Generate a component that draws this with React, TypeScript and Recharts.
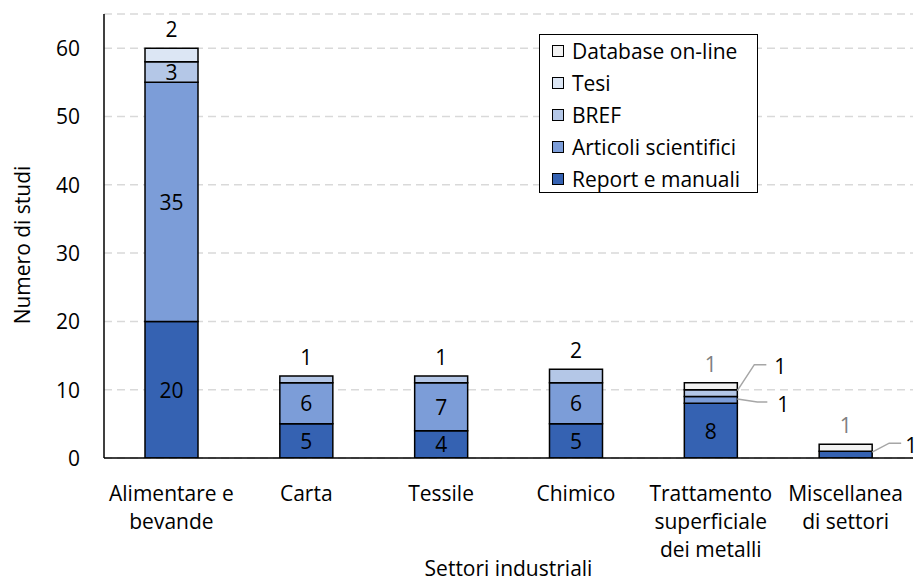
import React from 'react';
import { BarChart, Bar, XAxis, YAxis, CartesianGrid, LabelList, Label } from 'recharts';

const categories = [
  'Alimentare e\nbevande',
  'Carta',
  'Tessile',
  'Chimico',
  'Trattamento\nsuperficiale\ndei metalli',
  'Miscellanea\ndi settori',
];
const reportManuali = [20, 5, 4, 5, 8, 1];
const articoliScientifici = [35, 6, 7, 6, 1, 0];
const bref = [3, 1, 1, 2, 1, 0];
const tesi = [2, 0, 0, 0, 0, 0];
const databaseOnline = [0, 0, 0, 0, 1, 1];
const yTicks = [0, 10, 20, 30, 40, 50, 60];

const seriesKeys = ['report', 'articoli', 'bref', 'tesi', 'database'];
const seriesNames = ['Report e manuali', 'Articoli scientifici', 'BREF', 'Tesi', 'Database on-line'];
const seriesColors = ['#3562B2', '#7C9DD8', '#B4C7E7', '#DCE6F4', '#F2F2F2'];

const data = categories.map((c, i) => ({
  category: c,
  report: reportManuali[i],
  articoli: articoliScientifici[i],
  bref: bref[i],
  tesi: tesi[i],
  database: databaseOnline[i],
}));

const FONT = '"Open Sans", sans-serif';
const FS = 21;
const SMALL = 14;
const Y_AXIS_W = 104;

const makeLabel = (si: number) => (props: any) => {
  const { x, y, width, height } = props;
  const ci = categories.indexOf(props.value);
  if (ci < 0) return null;
  const row: any = data[ci];
  const key = seriesKeys[si];
  const value = row[key] as number;
  if (!value) return null;
  const vals = seriesKeys.map((k) => row[k] as number);
  let top = -1;
  vals.forEach((v, k) => { if (v > 0) top = k; });
  const pxPerUnit = Math.abs(height) / value;
  const h = Math.abs(height);
  const yTop = height < 0 ? y + height : y;
  const cx = x + width / 2;
  if (si === top) {
    return (
      <text x={cx} y={yTop - 19} textAnchor="middle" dominantBaseline="central"
        fontFamily={FONT} fontSize={FS} fill={key === 'database' ? '#7F7F7F' : '#000'}>
        {value}
      </text>
    );
  }
  if (h >= SMALL) {
    return (
      <text x={cx} y={yTop + h / 2} textAnchor="middle" dominantBaseline="central"
        fontFamily={FONT} fontSize={FS} fill="#000">
        {value}
      </text>
    );
  }
  let above = -1;
  for (let k = si + 1; k < vals.length; k++) { if (vals[k] > 0) { above = k; break; } }
  let below = -1;
  for (let k = si - 1; k >= 0; k--) { if (vals[k] > 0) { below = k; break; } }
  const aboveSmall = above >= 0 && above !== top && vals[above] * pxPerUnit < SMALL;
  const belowSmall = below >= 0 && vals[below] * pxPerUnit < SMALL;
  const right = x + width;
  if (aboveSmall) {
    const y0 = yTop + 2.5;
    const y1 = yTop + 5.5;
    return (
      <g>
        <path d={`M${right},${y0} L${right + 20},${y1} L${right + 30},${y1}`} stroke="#A6A6A6" strokeWidth={1.5} fill="none" />
        <text x={right + 46} y={yTop + 7.5} textAnchor="middle" dominantBaseline="central" fontFamily={FONT} fontSize={FS} fill="#000">{value}</text>
      </g>
    );
  }
  const rise = belowSmall ? 26 : 9;
  const y0 = yTop + 1;
  const y1 = y0 - rise;
  return (
    <g>
      <path d={`M${right},${y0} L${right + 17},${y1} L${right + 29},${y1}`} stroke="#A6A6A6" strokeWidth={1.5} fill="none" />
      <text x={right + (belowSmall ? 43 : 39)} y={y1 + 1.5} textAnchor="middle" dominantBaseline="central" fontFamily={FONT} fontSize={FS} fill="#000">{value}</text>
    </g>
  );
};

const renderTick = (props: any) => {
  const { x, payload } = props;
  const lines = String(payload.value).split('\n');
  return (
    <g>
      {lines.map((l, i) => (
        <text key={i} x={x} y={458 + 35 + i * 28} textAnchor="middle" dominantBaseline="central"
          fontFamily={FONT} fontSize={FS} fill="#000">{l}</text>
      ))}
    </g>
  );
};

const renderYTick = (props: any) => {
  const { y, payload } = props;
  return (
    <text x={Y_AXIS_W - 24} y={y} textAnchor="end" dominantBaseline="central"
      fontFamily={FONT} fontSize={FS} fill="#000">{payload.value}</text>
  );
};

export default function App() {
  const legendOrder = [4, 3, 2, 1, 0];
  return (
    <div style={{ position: 'absolute', left: 0, top: 0, width: 916, height: 577, background: '#fff', fontFamily: FONT }}>
      <BarChart width={916} height={577} data={data} margin={{ top: 14, right: 3, bottom: 0, left: 0 }} barCategoryGap={0}>
        <CartesianGrid vertical={false} stroke="#D9D9D9" strokeWidth={1.5} strokeDasharray="8 5" />
        <XAxis dataKey="category" height={119} tick={renderTick} tickLine={false} axisLine={{ stroke: '#000', strokeWidth: 1.5 }} interval={0}>
          <Label content={(p: any) => {
            const vb = p.viewBox;
            return <text x={vb.x + vb.width / 2} y={568} textAnchor="middle" dominantBaseline="central" fontFamily={FONT} fontSize={FS} fill="#000">Settori industriali</text>;
          }} />
        </XAxis>
        <YAxis width={Y_AXIS_W} domain={[0, 65]} ticks={yTicks} tickLine={false}
          axisLine={{ stroke: '#000', strokeWidth: 1.5 }} allowDataOverflow tick={renderYTick}>
          <Label content={(p: any) => {
            const vb = p.viewBox;
            const cy = vb.y + vb.height / 2 + 9;
            return <text x={22} y={cy} transform={`rotate(-90 22 ${cy})`} textAnchor="middle" dominantBaseline="central" fontFamily={FONT} fontSize={FS} fill="#000">Numero di studi</text>;
          }} />
        </YAxis>
        {seriesKeys.map((k, i) => (
          <Bar key={k} dataKey={k} name={seriesNames[i]} stackId="a" fill={seriesColors[i]} stroke="#000" strokeWidth={1.5}
            barSize={53} isAnimationActive={false}>
            <LabelList dataKey="category" content={makeLabel(i)} />
          </Bar>
        ))}
      </BarChart>
      <div style={{ position: 'absolute', left: 539, top: 34, width: 219, height: 159, boxSizing: 'border-box', border: '1.5px solid #000', background: '#fff' }}>
        {legendOrder.map((si, r) => (
          <div key={si} style={{ position: 'absolute', left: 12, top: r * 32, height: 32, display: 'flex', alignItems: 'center', whiteSpace: 'nowrap' }}>
            <span style={{ display: 'inline-block', width: 12, height: 12, boxSizing: 'border-box', border: '1.5px solid #000', background: seriesColors[si], marginRight: 8 }} />
            <span style={{ fontSize: FS, color: '#000', lineHeight: '32px' }}>{seriesNames[si]}</span>
          </div>
        ))}
      </div>
    </div>
  );
}
